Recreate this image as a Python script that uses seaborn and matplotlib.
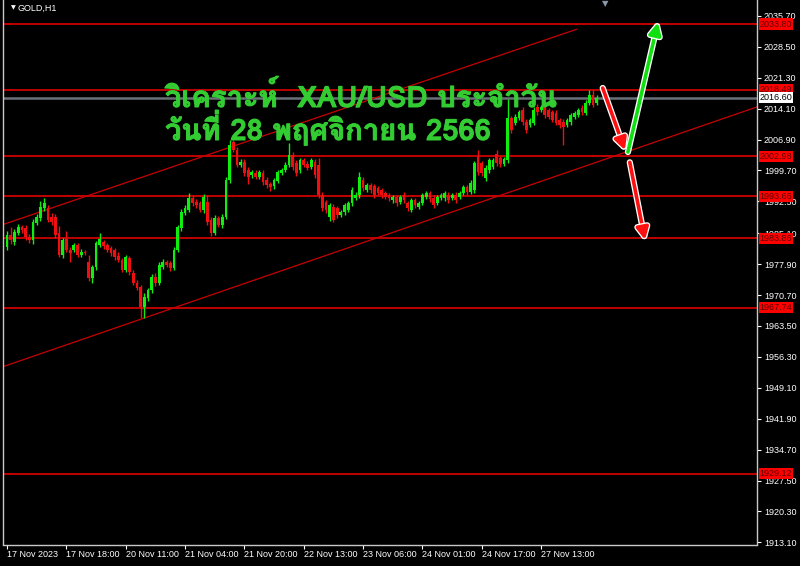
# GOLD H1 - วิเคราะห์ XAU/USD 28 พ.ย. 2566
import numpy as np
import matplotlib.pyplot as plt
import matplotlib.transforms as mtransforms
import matplotlib.patheffects as pe
from matplotlib import font_manager
from matplotlib.ft2font import FT2Font
import seaborn as sns

# --- datos (precios, velas H1) ---
opens = [
    1981.9, 1984.7, 1983.0, 1985.1, 1986.5, 1986.3, 1984.2, 1983.5, 1987.5, 1988.6,
    1990.9, 1990.9, 1988.9, 1988.9, 1985.1, 1980.0, 1983.8, 1981.2, 1981.2, 1982.3,
    1980.0, 1980.7, 1978.4, 1974.6, 1977.2, 1982.3, 1983.0, 1982.3, 1981.6, 1981.2,
    1979.8, 1978.8, 1976.5, 1979.3, 1975.8, 1973.5, 1972.5, 1967.9, 1970.0, 1971.8,
    1974.9, 1973.5, 1977.2, 1978.4, 1978.1, 1977.0, 1981.2, 1986.3, 1989.8, 1990.5,
    1993.3, 1992.3, 1992.1, 1990.5, 1992.3, 1988.2, 1985.1, 1988.6, 1987.0, 1988.9,
    1997.5, 2006.3, 2004.5, 2001.0, 2001.7, 1999.8, 1998.6, 1999.1, 1998.2, 1999.1,
    1997.5, 1996.5, 1996.0, 1997.3, 1999.1, 1999.8, 2001.0, 2003.3, 2001.5, 1999.8,
    2002.1, 2001.2, 2000.5, 2001.7, 2001.0, 1994.0, 1992.3, 1988.9, 1991.2, 1990.9,
    1989.3, 1990.0, 1990.5, 1992.1, 1993.3, 1994.0, 1997.5, 1995.1, 1996.3, 1996.0,
    1995.6, 1995.1, 1994.4, 1994.0, 1992.8, 1993.5, 1992.3, 1994.0, 1992.1, 1990.5,
    1992.8, 1991.2, 1992.1, 1993.5, 1994.4, 1993.3, 1992.1, 1993.3, 1993.3, 1994.0,
    1993.3, 1994.0, 1993.5, 1994.4, 1995.8, 1994.7, 1995.1, 2002.8, 2001.4, 1997.9,
    1999.8, 2000.5, 2003.5, 2002.5, 2001.2, 2002.1, 2011.9, 2010.8, 2011.9, 2013.8,
    2011.0, 2010.3, 2010.8, 2014.5, 2013.8, 2014.5, 2013.8, 2013.3, 2013.1, 2011.5,
    2011.0, 2010.3, 2011.0, 2012.2, 2012.6, 2014.3, 2013.1, 2015.4, 2017.3, 2015.4,
]
closes = [
    1984.7, 1983.5, 1985.4, 1986.5, 1985.8, 1984.2, 1983.5, 1987.7, 1988.9, 1991.2,
    1992.1, 1988.2, 1987.7, 1984.7, 1980.0, 1983.5, 1981.2, 1980.5, 1982.3, 1980.0,
    1980.7, 1980.5, 1974.6, 1977.2, 1982.8, 1983.8, 1982.0, 1981.2, 1980.5, 1979.5,
    1978.8, 1976.5, 1979.5, 1976.0, 1973.5, 1972.3, 1967.9, 1970.2, 1971.8, 1974.9,
    1973.5, 1977.7, 1978.4, 1977.7, 1977.0, 1981.2, 1986.5, 1990.0, 1990.9, 1993.3,
    1992.1, 1991.6, 1990.5, 1993.5, 1987.7, 1985.1, 1988.6, 1987.0, 1988.9, 1997.5,
    2005.6, 2004.5, 2001.0, 2001.7, 1999.1, 1998.2, 1999.3, 1998.2, 1999.3, 1997.0,
    1996.3, 1995.8, 1997.5, 1999.3, 1999.8, 2001.0, 2003.3, 2000.5, 1999.1, 2002.1,
    2001.0, 2000.3, 2002.1, 1998.6, 1994.0, 1990.9, 1990.5, 1991.6, 1988.2, 1989.3,
    1990.0, 1991.6, 1992.1, 1995.1, 1994.0, 1998.2, 1995.6, 1996.3, 1995.1, 1994.0,
    1994.4, 1994.0, 1993.5, 1993.3, 1993.5, 1992.1, 1993.5, 1992.8, 1990.9, 1992.8,
    1991.6, 1992.1, 1994.0, 1994.4, 1993.0, 1991.6, 1993.5, 1994.0, 1994.4, 1992.8,
    1994.0, 1992.8, 1994.4, 1995.8, 1994.7, 1996.8, 2001.4, 1999.3, 1999.1, 2000.3,
    2002.1, 2002.1, 2001.4, 2001.2, 2002.3, 2011.9, 2009.1, 2012.2, 2013.3, 2011.0,
    2009.1, 2011.5, 2013.8, 2013.3, 2014.5, 2012.6, 2012.2, 2011.5, 2010.8, 2010.3,
    2009.8, 2011.5, 2012.6, 2013.1, 2013.8, 2013.3, 2015.4, 2017.3, 2015.0, 2016.6,
]
highs = [
    1985.6, 1986.5, 1986.0, 1987.3, 1987.0, 1986.9, 1984.9, 1988.3, 1989.6, 1992.6,
    1993.3, 1991.6, 1989.7, 1989.6, 1986.8, 1984.0, 1985.5, 1981.8, 1982.9, 1982.8,
    1981.3, 1981.1, 1980.0, 1977.8, 1983.3, 1985.1, 1983.6, 1982.8, 1982.2, 1981.7,
    1980.6, 1979.4, 1980.0, 1979.9, 1976.6, 1974.2, 1973.1, 1971.2, 1972.4, 1975.5,
    1975.9, 1978.3, 1979.0, 1978.9, 1978.7, 1981.8, 1987.1, 1990.7, 1991.6, 1994.5,
    1994.0, 1993.0, 1992.7, 1994.2, 1994.0, 1988.9, 1989.3, 1989.2, 1989.5, 1998.1,
    2006.8, 2006.9, 2005.1, 2002.4, 2002.3, 2000.4, 1999.9, 1999.7, 1999.9, 1999.7,
    1998.1, 1997.1, 1998.0, 1999.9, 2000.3, 2001.6, 2006.1, 2004.0, 2002.1, 2002.7,
    2002.6, 2001.8, 2002.7, 2002.4, 2002.5, 1994.6, 1992.9, 1992.2, 1991.9, 1991.4,
    1990.6, 1992.2, 1992.7, 1995.8, 1994.6, 1999.3, 1998.1, 1996.9, 1996.8, 1996.6,
    1996.1, 1995.7, 1995.0, 1994.5, 1994.0, 1994.1, 1994.0, 1994.6, 1992.7, 1993.4,
    1993.3, 1992.7, 1994.5, 1995.0, 1995.0, 1993.9, 1994.1, 1994.5, 1994.9, 1994.6,
    1994.5, 1994.6, 1994.9, 1996.4, 1996.3, 1997.4, 2002.0, 2004.5, 2002.0, 2000.9,
    2002.7, 2002.6, 2004.5, 2003.1, 2002.9, 2016.4, 2012.5, 2012.8, 2013.9, 2014.4,
    2011.6, 2012.0, 2014.4, 2015.1, 2015.0, 2015.1, 2014.3, 2013.9, 2013.7, 2012.0,
    2011.6, 2012.0, 2013.1, 2013.6, 2014.3, 2014.9, 2016.0, 2018.5, 2018.4, 2017.2,
]
lows = [
    1981.2, 1982.5, 1982.4, 1984.6, 1985.2, 1983.6, 1982.9, 1982.6, 1987.0, 1988.0,
    1990.3, 1987.6, 1987.1, 1984.0, 1979.5, 1979.4, 1980.7, 1978.4, 1980.7, 1979.5,
    1979.5, 1980.0, 1974.0, 1973.5, 1976.6, 1981.8, 1981.5, 1980.7, 1979.9, 1978.9,
    1978.3, 1976.0, 1976.0, 1975.4, 1973.0, 1971.8, 1965.3, 1965.3, 1969.4, 1971.2,
    1972.9, 1973.0, 1976.7, 1977.2, 1976.4, 1976.5, 1980.6, 1985.7, 1989.3, 1990.0,
    1991.5, 1991.0, 1990.0, 1989.9, 1987.1, 1984.5, 1984.6, 1986.5, 1986.4, 1988.3,
    1996.9, 2003.9, 2000.4, 2000.5, 1998.5, 1996.5, 1998.0, 1997.6, 1997.7, 1996.4,
    1995.7, 1995.0, 1995.4, 1996.8, 1998.6, 1999.3, 2000.4, 1999.9, 1998.5, 1999.2,
    2000.5, 1999.7, 2000.0, 1998.0, 1993.4, 1990.2, 1989.9, 1987.9, 1987.6, 1988.7,
    1988.8, 1989.4, 1990.0, 1991.5, 1992.8, 1993.4, 1995.0, 1994.6, 1994.5, 1993.4,
    1993.9, 1993.4, 1993.0, 1992.7, 1992.2, 1991.5, 1991.8, 1992.2, 1990.3, 1990.0,
    1991.0, 1990.7, 1991.6, 1993.0, 1992.4, 1991.0, 1991.6, 1992.8, 1992.7, 1992.2,
    1992.8, 1992.2, 1993.0, 1993.9, 1994.1, 1994.2, 1994.5, 1998.7, 1998.5, 1997.3,
    1999.2, 2000.0, 2000.8, 2000.6, 2000.7, 2001.5, 2008.5, 2010.2, 2011.4, 2010.4,
    2008.5, 2009.8, 2010.2, 2012.7, 2013.3, 2012.0, 2011.6, 2010.9, 2010.2, 2009.7,
    2005.6, 2009.8, 2010.4, 2011.7, 2012.1, 2012.7, 2012.6, 2014.9, 2014.4, 2014.9,
]

# niveles horizontales (soporte / resistencia)
levels = [2033.80, 2018.49, 2002.98, 1993.66, 1983.86, 1967.74, 1929.12]
bid = 2016.60

# eje de tiempo
time_ticks = [0, 16, 32, 48, 64, 80, 96, 112, 128, 144]
time_labels = ["17 Nov 2023", "17 Nov 18:00", "20 Nov 11:00", "21 Nov 04:00",
               "21 Nov 20:00", "22 Nov 13:00", "23 Nov 06:00", "24 Nov 01:00",
               "24 Nov 17:00", "27 Nov 13:00"]
price_ticks = [2035.70, 2028.50, 2021.30, 2014.10, 2006.90, 1999.70, 1992.50,
               1985.10, 1977.90, 1970.70, 1963.50, 1956.30, 1949.10, 1941.90,
               1934.70, 1927.50, 1920.30, 1913.10]

# canal (indice de vela, precio)
upper_x = [-0.8, 153.6]
upper_y = [1987.2, 2032.6]
lower_x = [-0.8, 202.2]
lower_y = [1954.1, 2014.5]

# flechas de escenario (inicio, fin)
arrows = [
    ((160.6, 2018.9), (166.6, 2004.4), '#ff1010'),
    ((167.4, 2004.0), (175.5, 2034.2), '#10e010'),
    ((167.9, 2001.6), (172.0, 1983.5), '#ff1010'),
]

title1 = "วิเคราะห์  XAU/USD ประจำวัน"
title2 = "วันที่ 28 พฤศจิกายน 2566"

# --- estilo ---
sns.set_theme(style="dark", rc={
    "axes.facecolor": "black", "figure.facecolor": "black",
    "axes.edgecolor": "#c8c8c8", "axes.grid": False,
})
plt.rcParams['font.family'] = ['Liberation Sans', 'DejaVu Sans']

# buscar una fuente con glifos tailandeses
thai_fonts = []
for f in font_manager.fontManager.ttflist:
    try:
        if 0x0E27 in FT2Font(f.fname).get_charmap():
            thai_fonts.append(f)
    except Exception:
        pass
thai_bold = [f for f in thai_fonts if f.weight in ('bold', 700, 'heavy')]
thai_family = [(thai_bold or thai_fonts)[0].name] if thai_fonts else []

fig = plt.figure(figsize=(8, 5.66), dpi=100)
ax = fig.add_axes([3 / 800, 1 - 544.5 / 566, 754 / 800, 544.5 / 566])
ax.set_xlim(-1.1, 202.2)
ax.set_ylim(1912.6, 2039.4)

# niveles
for lv in levels:
    ax.axhline(lv, color='#d00000', lw=1.3, zorder=1)
ax.axhline(bid, color='#6a7078', lw=1.8, zorder=1)

# canal
sns.lineplot(x=upper_x, y=upper_y, ax=ax, color='#c80000', lw=0.9, zorder=1)
sns.lineplot(x=lower_x, y=lower_y, ax=ax, color='#c80000', lw=0.9, zorder=1)

# velas
o = np.array(opens); c = np.array(closes)
h = np.array(highs); l = np.array(lows)
idx = np.arange(len(o))
up = c >= o
cols = np.where(up, '#10ee10', '#ee1010')
ax.vlines(idx, l, h, colors=cols, lw=1, zorder=2)
body = np.maximum(np.abs(c - o), 0.3)
ax.bar(idx, body, bottom=np.minimum(o, c), width=0.74, color=cols, lw=0, zorder=3)

# flechas
for (x0, y0), (x1, y1), col in arrows:
    ax.annotate('', xy=(x1, y1), xytext=(x0, y0),
                arrowprops=dict(arrowstyle='-|>,head_length=0.6,head_width=0.3',
                                color=col, lw=2.6, shrinkA=0, shrinkB=0,
                                path_effects=[pe.withStroke(linewidth=4.5, foreground='white')]),
                zorder=6)

# ejes
ax.spines['top'].set_visible(False)
for s in ['left', 'right', 'bottom']:
    ax.spines[s].set_color('#c8c8c8')
    ax.spines[s].set_linewidth(1)
ax.yaxis.tick_right()
ax.set_yticks(price_ticks)
ax.set_yticklabels([f"{v:.2f}" for v in price_ticks])
ax.set_xticks(time_ticks)
ax.set_xticklabels(time_labels, ha='left')
ax.tick_params(axis='y', colors='white', labelcolor='white', labelsize=6.5,
               length=3, width=0.8, direction='out', pad=2, right=True, left=False)
ax.tick_params(axis='x', colors='white', labelcolor='white', labelsize=6.5,
               length=3, width=0.8, direction='out', pad=1, bottom=True)
ax.set_xlabel('')
ax.set_ylabel('')

# etiquetas de precio en el eje derecho
trans = mtransforms.blended_transform_factory(ax.transAxes, ax.transData)
for lv in levels:
    ax.text(1.0035, lv, f"{lv:.2f}", transform=trans, ha='left', va='center',
            fontsize=6.5, color='#5a0000', clip_on=False, zorder=10,
            bbox=dict(boxstyle='square,pad=0.12', fc='#ff0000', ec='none'))
ax.text(1.0035, bid, f"{bid:.2f}", transform=trans, ha='left', va='center',
        fontsize=6.5, color='black', clip_on=False, zorder=10,
        bbox=dict(boxstyle='square,pad=0.12', fc='white', ec='none'))

# cabecera
fig.text(11 / 800, 1 - 8 / 566, '\u25bc', color='white', fontsize=4.5,
         ha='left', va='center', family=['DejaVu Sans'])
fig.text(18 / 800, 1 - 8 / 566, 'GOLD,H1', color='white', fontsize=6.5,
         ha='left', va='center')
fig.text(605 / 800, 1 - 4 / 566, '\u25bc', color='#8a96a8', fontsize=6,
         ha='center', va='center', family=['DejaVu Sans'])

# titulo
fam = thai_family + ['DejaVu Sans']
bold_fx = [pe.withStroke(linewidth=0.7, foreground='#33cc33')]
fig.text(165 / 800, 1 - 107 / 566, title1, color='#33cc33', fontsize=21,
         fontweight='bold', ha='left', va='baseline', family=fam, zorder=8,
         path_effects=bold_fx)
fig.text(165 / 800, 1 - 140 / 566, title2, color='#33cc33', fontsize=21,
         fontweight='bold', ha='left', va='baseline', family=fam, zorder=8,
         path_effects=bold_fx)

fig.savefig('out.png', dpi=100, facecolor='black')
